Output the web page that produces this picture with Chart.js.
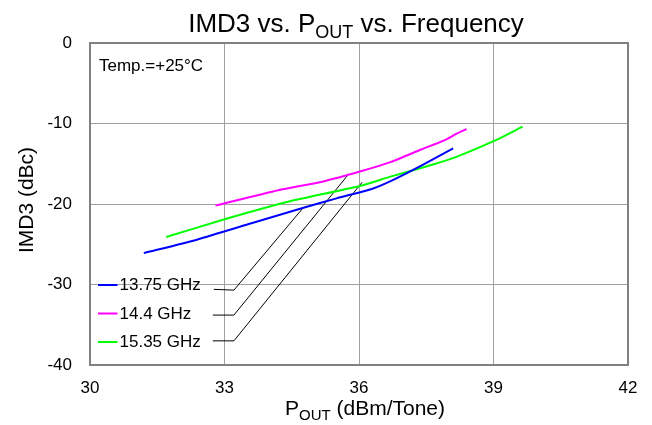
<!DOCTYPE html>
<html>
<head>
<meta charset="utf-8">
<script src="https://cdn.jsdelivr.net/npm/chart.js@4"></script>
<style>
  html, body { margin: 0; padding: 0; background: #fff; }
  #wrap { width: 652px; height: 425px; position: relative; }
</style>
</head>
<body>
<div id="wrap"><canvas id="chart"></canvas></div>
<script>
// donnees
const pout1375 = [31.2, 32.4, 33.6, 34.8, 35.5, 36.3, 36.8, 37.4, 38.1];
const imd1375  = [-26.1, -24.4, -22.4, -20.4, -19.3, -18.1, -16.9, -15.2, -13.1];

const pout144 = [32.8, 34.2, 35.2, 36.0, 36.7, 37.4, 37.9, 38.2, 38.4];
const imd144  = [-20.2, -18.3, -17.2, -16.0, -14.8, -13.2, -12.1, -11.2, -10.7];

const pout1535 = [31.7, 33.0, 34.5, 36.0, 36.7, 37.4, 38.1, 39.0, 39.65];
const imd1535  = [-24.1, -21.9, -19.6, -17.8, -16.6, -15.5, -14.3, -12.2, -10.4];

const seriesLabels = ["13.75 GHz", "14.4 GHz", "15.35 GHz"];
const seriesColors = ["#0000ff", "#ff00ff", "#00ff00"];

// traits de repere (legende -> courbe)
const leaderX = [[32.76, 33.21, 34.75], [32.74, 33.21, 35.76], [32.74, 33.21, 36.07]];
const leaderY = [[-30.6, -30.7, -20.5], [-33.8, -33.8, -16.35], [-37.0, -37.0, -17.3]];

const xTicks = [30, 33, 36, 39, 42];
const yTicks = [0, -10, -20, -30, -40];

const FONT = "'Liberation Sans', Arial, sans-serif";

function toPoints(xs, ys) {
    return xs.map((x, i) => ({ x: x, y: ys[i] }));
}

const datasets = [
    { label: seriesLabels[0], data: toPoints(pout1375, imd1375), borderColor: seriesColors[0] },
    { label: seriesLabels[1], data: toPoints(pout144, imd144), borderColor: seriesColors[1] },
    { label: seriesLabels[2], data: toPoints(pout1535, imd1535), borderColor: seriesColors[2] }
].map(d => Object.assign(d, { borderWidth: 2, pointRadius: 0, tension: 0.2, fill: false }));

leaderX.forEach((xs, i) => {
    datasets.push({
        label: "leader" + i,
        data: toPoints(xs, leaderY[i]),
        borderColor: "#000000",
        borderWidth: 1,
        pointRadius: 0,
        tension: 0,
        fill: false
    });
});

// texte avec indice (P_OUT)
function drawParts(ctx, parts, x, y, size, subSize, align) {
    let total = 0;
    parts.forEach(p => {
        ctx.font = (p.sub ? subSize : size) + "px " + FONT;
        p.w = ctx.measureText(p.t).width;
        total += p.w;
    });
    let cx = align === "center" ? x - total / 2 : x;
    ctx.textAlign = "left";
    ctx.textBaseline = "alphabetic";
    parts.forEach(p => {
        ctx.font = (p.sub ? subSize : size) + "px " + FONT;
        ctx.fillText(p.t, cx, p.sub ? y + size * 0.25 : y);
        cx += p.w;
    });
}

const decorPlugin = {
    id: "decor",
    afterDatasetsDraw(chart) {
        const ctx = chart.ctx;
        const a = chart.chartArea;
        ctx.save();
        // cadre
        ctx.strokeStyle = "#808080";
        ctx.lineWidth = 2;
        ctx.strokeRect(a.left, a.top, a.right - a.left, a.bottom - a.top);

        ctx.fillStyle = "#000";
        // titre
        drawParts(ctx, [{ t: "IMD3 vs. P" }, { t: "OUT", sub: true }, { t: " vs. Frequency" }],
            356, 31.5, 26, 18, "center");
        // titre axe x
        drawParts(ctx, [{ t: "P" }, { t: "OUT", sub: true }, { t: " (dBm/Tone)" }],
            365, 415, 21, 15, "center");
        // titre axe y
        ctx.save();
        ctx.translate(33, 200);
        ctx.rotate(-Math.PI / 2);
        ctx.font = "21px " + FONT;
        ctx.textAlign = "center";
        ctx.textBaseline = "alphabetic";
        ctx.fillText("IMD3 (dBc)", 0, 0);
        ctx.restore();

        // temperature
        ctx.font = "17px " + FONT;
        ctx.textAlign = "left";
        ctx.fillText("Temp.=+25°C", 99, 70.5);

        // legende
        const legY = [285, 313.5, 342];
        seriesLabels.forEach((lab, i) => {
            ctx.strokeStyle = seriesColors[i];
            ctx.lineWidth = 2;
            ctx.beginPath();
            ctx.moveTo(98, legY[i]);
            ctx.lineTo(117.5, legY[i]);
            ctx.stroke();
            ctx.fillStyle = "#000";
            ctx.textBaseline = "middle";
            ctx.fillText(lab, 119.5, legY[i] + 0.5);
        });
        ctx.restore();
    }
};

new Chart(document.getElementById("chart"), {
    type: "line",
    data: { datasets: datasets },
    plugins: [decorPlugin],
    options: {
        responsive: true,
        maintainAspectRatio: false,
        animation: false,
        layout: { padding: { top: 43, right: 24, bottom: 0, left: 0 } },
        plugins: {
            legend: { display: false },
            title: { display: false },
            tooltip: { enabled: false }
        },
        scales: {
            x: {
                type: "linear",
                min: 30,
                max: 42,
                afterFit: s => { s.height = 60; },
                afterBuildTicks: s => { s.ticks = xTicks.map(v => ({ value: v })); },
                grid: { color: "#a0a0a0", lineWidth: 1, drawTicks: false },
                border: { display: false },
                ticks: { padding: 13, color: "#000", font: { family: FONT, size: 17 } }
            },
            y: {
                type: "linear",
                min: -40,
                max: 0,
                afterFit: s => { s.width = 90; },
                afterBuildTicks: s => { s.ticks = yTicks.map(v => ({ value: v })); },
                grid: { color: "#a0a0a0", lineWidth: 1, drawTicks: false },
                border: { display: false },
                ticks: { padding: 18, color: "#000", font: { family: FONT, size: 17 } }
            }
        }
    }
});
</script>
</body>
</html>
